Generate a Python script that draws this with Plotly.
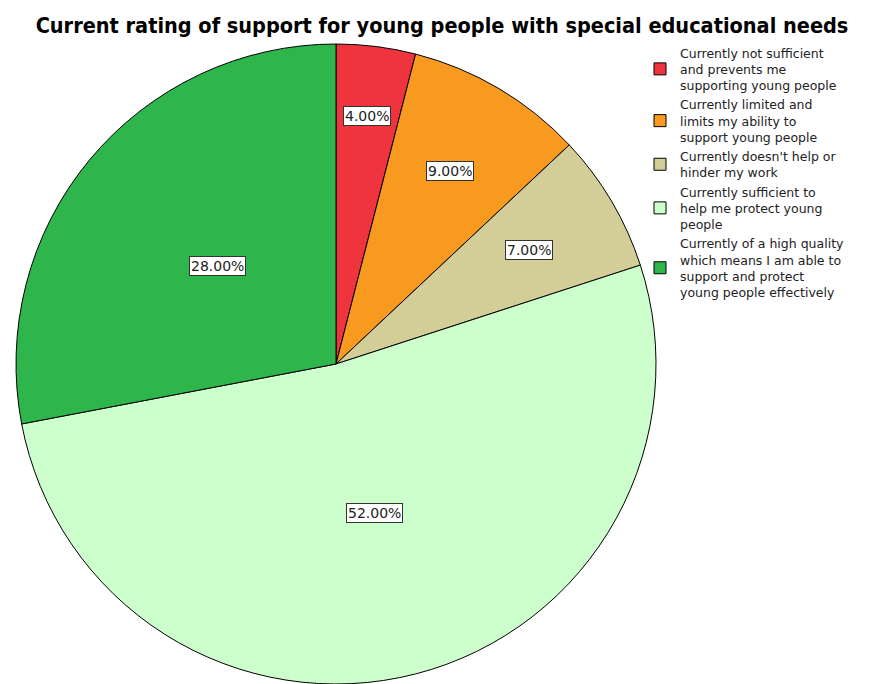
import math
import plotly.graph_objects as go

categories = [
    "Currently not sufficient<br>and prevents me<br>supporting young people",
    "Currently limited and<br>limits my ability to<br>support young people",
    "Currently doesn't help or<br>hinder my work",
    "Currently sufficient to<br>help me protect young<br>people",
    "Currently of a high quality<br>which means I am able to<br>support and protect<br>young people effectively",
]
values = [4.0, 9.0, 7.0, 52.0, 28.0]
colors = ["#F0343D", "#F79A1F", "#D3CD97", "#CCFFCC", "#2EB54B"]

# the page body has an 8px margin, so the figure is drawn 8px in from the window edge
OFF = 8
WIN_W, WIN_H = 869, 684
W, H = WIN_W - OFF, WIN_H - OFF

# pie placement in window pixels
cx_win, top_win = 336, 44
cx = cx_win - OFF
top = top_win - OFF
R = (H - top) / 2
cy = top + R

dom_x = [(cx - R) / W, (cx + R) / W]
dom_y = [0.0, 1 - top / H]

fig = go.Figure(go.Pie(
    labels=categories,
    values=values,
    sort=False,
    direction="clockwise",
    rotation=0,
    marker=dict(colors=colors, line=dict(color="black", width=1)),
    textinfo="none",
    hoverinfo="label+percent",
    domain=dict(x=dom_x, y=dom_y),
))

cxp = (dom_x[0] + dom_x[1]) / 2
cyp = (dom_y[0] + dom_y[1]) / 2

total = sum(values)
cum = 0.0
annotations = []
for v in values:
    share = v / total
    mid = (cum + v / 2) / total * 2 * math.pi
    cum += v
    if share < 0.05:
        frac = 0.78
    elif share < 0.15:
        frac = 0.70
    else:
        frac = 0.48
    ox = math.sin(mid) * R * frac
    oy = math.cos(mid) * R * frac
    annotations.append(dict(
        x=cxp + ox / W, y=cyp + oy / H, xref="paper", yref="paper",
        xanchor="center", yanchor="middle",
        text=f"{share * 100:.2f}%", showarrow=False,
        font=dict(family="DejaVu Sans", size=14, color="#222222"),
        bgcolor="white", bordercolor="#333333", borderwidth=1, borderpad=1,
    ))

fig.update_layout(
    width=W, height=H,
    margin=dict(l=0, r=0, t=0, b=0),
    paper_bgcolor="white",
    title=dict(
        text="<b>Current rating of support for young people with special educational needs</b>",
        x=(442 - OFF) / W, xanchor="center", y=1 - (25 - OFF) / H, yanchor="middle",
        font=dict(family="DejaVu Sans Condensed, DejaVu Sans", size=21.5, color="black"),
    ),
    legend=dict(
        x=(640 - OFF) / W, xanchor="left", y=1 - (38 - OFF) / H, yanchor="top",
        font=dict(family="DejaVu Sans", size=12.5, color="#222222"),
        tracegroupgap=0,
        bgcolor="rgba(0,0,0,0)",
    ),
    annotations=annotations,
)

fig.write_html("out.html")
